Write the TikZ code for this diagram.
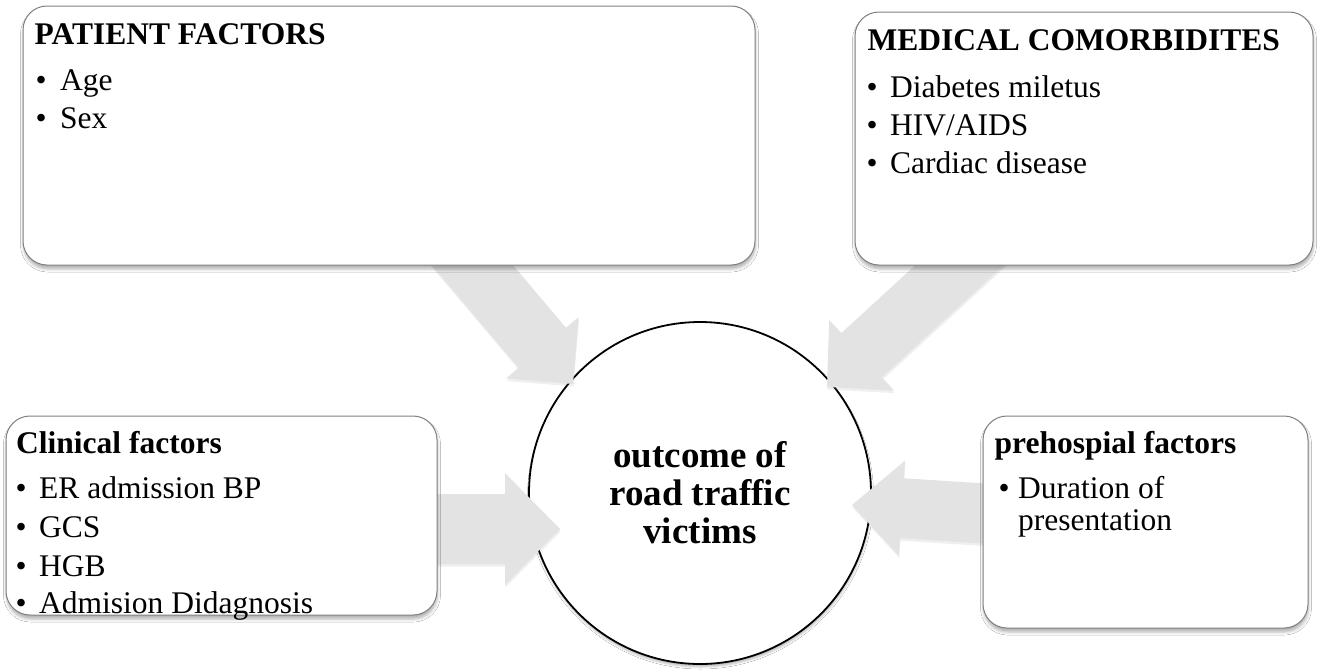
\documentclass[tikz,border=0pt]{standalone}
\usepackage{fontspec}
\setmainfont{Liberation Serif}
\usetikzlibrary{calc,shadows,shadows.blur}
\newcommand\bul[2][22pt]{\makebox[#1][l]{\textbullet}#2}
\newcommand\blockarrow[6]{%
  % #1 name, #2 start, #3 tip, #4 half shaft, #5 half head, #6 head length
  \coordinate (#1h) at ($(#3)!#6!(#2)$);
  \fill[arrowfill] ($(#2)!#4!90:(#3)$) -- ($(#1h)!#4!90:(#3)$) -- ($(#1h)!#5!90:(#3)$)
    -- (#3) -- ($(#1h)!#5!-90:(#3)$) -- ($(#1h)!#4!-90:(#3)$) -- ($(#2)!#4!-90:(#3)$) -- cycle;
}
\begin{document}
\begin{tikzpicture}[x=1pt,y=-1pt,
  boxstyle/.style={rectangle, draw=black!50, line width=1pt, fill=white, rounded corners=24pt, inner sep=0pt,
    blur shadow={shadow xshift=0.5pt, shadow yshift=-4pt, shadow blur radius=3pt, shadow opacity=30}},
  hubstyle/.style={circle, draw=black, line width=1.8pt, fill=white, inner sep=0pt, minimum size=342pt,
    align=center, font=\fontsize{37}{38}\selectfont\bfseries,
    blur shadow={shadow xshift=0.5pt, shadow yshift=-3pt, shadow blur radius=2pt, shadow opacity=25}},
  arrowfill/.style={fill=black!11, draw=none,
    drop shadow={opacity=0.12, shadow xshift=0.5pt, shadow yshift=-2.5pt}},
  titletxt/.style={anchor=base west, inner sep=0pt, font=\fontsize{31.5}{38}\selectfont\bfseries},
  itemtxt/.style={anchor=base west, inner sep=0pt, font=\fontsize{31.5}{38}\selectfont},
]
\fill[white] (0,0) rectangle (1319,670);
\useasboundingbox (0,0) rectangle (1319,670);

% hub
\node[hubstyle] (hub) at (700,493) {outcome of\\road traffic\\victims};

% arrow end points
\coordinate (a1s) at (446,234);  \coordinate (a1t) at (573,384);
\coordinate (a2s) at (986,241);  \coordinate (a2t) at (827,387);
\coordinate (a3s) at (420,529);  \coordinate (a3t) at (560,529);
\coordinate (a4s) at (1000,514.5); \coordinate (a4t) at (852,505);

\blockarrow{a1}{a1s}{a1t}{31pt}{47.5pt}{47.5pt}
\blockarrow{a2}{a2s}{a2t}{30pt}{48pt}{47pt}
\blockarrow{a3}{a3s}{a3t}{35pt}{56pt}{55pt}
\blockarrow{a4}{a4s}{a4t}{30pt}{47.5pt}{50pt}

% boxes
\node[boxstyle, minimum width=732pt, minimum height=259pt] (pbox) at (389,135.5) {};
\node[boxstyle, minimum width=458pt, minimum height=253pt] (mbox) at (1084,138.5) {};
\node[boxstyle, minimum width=431pt, minimum height=199pt] (cbox) at (221.5,515.5) {};
\node[boxstyle, minimum width=325pt, minimum height=212pt] (hbox) at (1145.5,522) {};

% patient factors
\node[titletxt] (pt) at (34.5,44) {PATIENT FACTORS};
\node[itemtxt] (p1) at (35.5,90) {\bul[24.5pt]{Age}};
\node[itemtxt] (p2) at (35.5,128) {\bul[24.5pt]{Sex}};

% medical comorbidites
\node[titletxt] (mt) at (867.5,50) {MEDICAL COMORBIDITES};
\node[itemtxt] (m1) at (866.5,97) {\bul[23.5pt]{Diabetes miletus}};
\node[itemtxt] (m2) at (866.5,135) {\bul[23.5pt]{HIV/AIDS}};
\node[itemtxt] (m3) at (866.5,173) {\bul[23.5pt]{Cardiac disease}};

% clinical factors
\node[titletxt] (ct) at (16,453) {Clinical factors};
\node[itemtxt] (c1) at (15.5,498) {\bul[23.5pt]{ER admission BP}};
\node[itemtxt] (c2) at (15.5,537) {\bul[23.5pt]{GCS}};
\node[itemtxt] (c3) at (15.5,576) {\bul[23.5pt]{HGB}};
\node[itemtxt] (c4) at (15.5,613) {\bul[23.5pt]{Admision Didagnosis}};

% prehospital factors
\node[titletxt] (ht) at (994.5,453) {prehospial factors};
\node[itemtxt] (h1) at (998.5,498) {\bul[19.5pt]{Duration of}};
\node[itemtxt] (h2) at (1018,530) {presentation};
\end{tikzpicture}
\end{document}
